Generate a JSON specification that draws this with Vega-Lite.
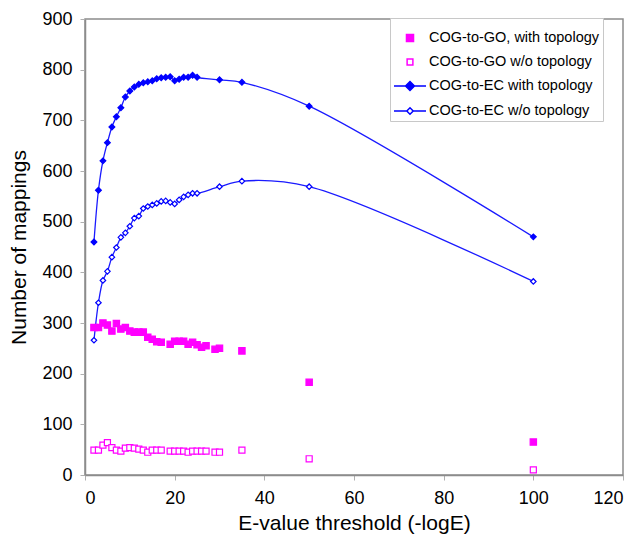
{
  "$schema": "https://vega.github.io/schema/vega-lite/v6.json",
  "width": 538,
  "height": 456,
  "autosize": {"type": "none"},
  "padding": {"left": 85, "top": 19, "right": 17, "bottom": 69},
  "background": "white",
  "config": {
    "font": "Liberation Sans",
    "view": {"stroke": "#8c8c8c", "strokeWidth": 1.5},
    "axis": {
      "grid": false,
      "domainColor": "#8c8c8c",
      "domainWidth": 1.5,
      "tickColor": "#b0b0b0",
      "tickSize": 5,
      "labelFontSize": 18,
      "labelColor": "#000000",
      "titleFontSize": 21,
      "titleFontWeight": "normal",
      "titleColor": "#000000"
    }
  },
  "data": {
    "values": [
      {"series": "COG-to-EC with topology", "x": 2, "y": 460},
      {"series": "COG-to-EC with topology", "x": 3, "y": 562},
      {"series": "COG-to-EC with topology", "x": 4, "y": 620},
      {"series": "COG-to-EC with topology", "x": 5, "y": 656},
      {"series": "COG-to-EC with topology", "x": 6, "y": 687},
      {"series": "COG-to-EC with topology", "x": 7, "y": 707},
      {"series": "COG-to-EC with topology", "x": 8, "y": 725},
      {"series": "COG-to-EC with topology", "x": 9, "y": 746},
      {"series": "COG-to-EC with topology", "x": 10, "y": 758},
      {"series": "COG-to-EC with topology", "x": 11, "y": 766},
      {"series": "COG-to-EC with topology", "x": 12, "y": 771},
      {"series": "COG-to-EC with topology", "x": 13, "y": 774},
      {"series": "COG-to-EC with topology", "x": 14, "y": 776},
      {"series": "COG-to-EC with topology", "x": 15, "y": 778},
      {"series": "COG-to-EC with topology", "x": 16, "y": 782},
      {"series": "COG-to-EC with topology", "x": 17, "y": 784},
      {"series": "COG-to-EC with topology", "x": 18, "y": 785},
      {"series": "COG-to-EC with topology", "x": 19, "y": 786},
      {"series": "COG-to-EC with topology", "x": 20, "y": 778},
      {"series": "COG-to-EC with topology", "x": 21, "y": 781},
      {"series": "COG-to-EC with topology", "x": 22, "y": 785},
      {"series": "COG-to-EC with topology", "x": 23, "y": 785},
      {"series": "COG-to-EC with topology", "x": 24, "y": 789},
      {"series": "COG-to-EC with topology", "x": 25, "y": 785},
      {"series": "COG-to-EC with topology", "x": 30, "y": 780},
      {"series": "COG-to-EC with topology", "x": 35, "y": 775},
      {"series": "COG-to-EC with topology", "x": 50, "y": 728},
      {"series": "COG-to-EC with topology", "x": 100, "y": 470},
      {"series": "COG-to-EC w/o topology", "x": 2, "y": 266},
      {"series": "COG-to-EC w/o topology", "x": 3, "y": 340},
      {"series": "COG-to-EC w/o topology", "x": 4, "y": 384},
      {"series": "COG-to-EC w/o topology", "x": 5, "y": 402},
      {"series": "COG-to-EC w/o topology", "x": 6, "y": 430},
      {"series": "COG-to-EC w/o topology", "x": 7, "y": 449},
      {"series": "COG-to-EC w/o topology", "x": 8, "y": 469},
      {"series": "COG-to-EC w/o topology", "x": 9, "y": 478},
      {"series": "COG-to-EC w/o topology", "x": 10, "y": 491},
      {"series": "COG-to-EC w/o topology", "x": 11, "y": 507},
      {"series": "COG-to-EC w/o topology", "x": 12, "y": 511},
      {"series": "COG-to-EC w/o topology", "x": 13, "y": 526},
      {"series": "COG-to-EC w/o topology", "x": 14, "y": 530},
      {"series": "COG-to-EC w/o topology", "x": 15, "y": 533},
      {"series": "COG-to-EC w/o topology", "x": 16, "y": 536},
      {"series": "COG-to-EC w/o topology", "x": 17, "y": 540},
      {"series": "COG-to-EC w/o topology", "x": 18, "y": 541},
      {"series": "COG-to-EC w/o topology", "x": 19, "y": 538},
      {"series": "COG-to-EC w/o topology", "x": 20, "y": 535},
      {"series": "COG-to-EC w/o topology", "x": 21, "y": 543},
      {"series": "COG-to-EC w/o topology", "x": 22, "y": 549},
      {"series": "COG-to-EC w/o topology", "x": 23, "y": 553},
      {"series": "COG-to-EC w/o topology", "x": 24, "y": 556},
      {"series": "COG-to-EC w/o topology", "x": 25, "y": 556},
      {"series": "COG-to-EC w/o topology", "x": 30, "y": 569},
      {"series": "COG-to-EC w/o topology", "x": 35, "y": 580},
      {"series": "COG-to-EC w/o topology", "x": 50, "y": 569},
      {"series": "COG-to-EC w/o topology", "x": 100, "y": 382},
      {"series": "COG-to-GO, with topology", "x": 2, "y": 291},
      {"series": "COG-to-GO, with topology", "x": 3, "y": 291},
      {"series": "COG-to-GO, with topology", "x": 4, "y": 300},
      {"series": "COG-to-GO, with topology", "x": 5, "y": 296},
      {"series": "COG-to-GO, with topology", "x": 6, "y": 284},
      {"series": "COG-to-GO, with topology", "x": 7, "y": 299},
      {"series": "COG-to-GO, with topology", "x": 8, "y": 288},
      {"series": "COG-to-GO, with topology", "x": 9, "y": 291},
      {"series": "COG-to-GO, with topology", "x": 10, "y": 284},
      {"series": "COG-to-GO, with topology", "x": 11, "y": 282},
      {"series": "COG-to-GO, with topology", "x": 12, "y": 282},
      {"series": "COG-to-GO, with topology", "x": 13, "y": 282},
      {"series": "COG-to-GO, with topology", "x": 14, "y": 272},
      {"series": "COG-to-GO, with topology", "x": 15, "y": 268},
      {"series": "COG-to-GO, with topology", "x": 16, "y": 263},
      {"series": "COG-to-GO, with topology", "x": 17, "y": 262},
      {"series": "COG-to-GO, with topology", "x": 19, "y": 258},
      {"series": "COG-to-GO, with topology", "x": 20, "y": 264},
      {"series": "COG-to-GO, with topology", "x": 21, "y": 264},
      {"series": "COG-to-GO, with topology", "x": 22, "y": 264},
      {"series": "COG-to-GO, with topology", "x": 23, "y": 258},
      {"series": "COG-to-GO, with topology", "x": 24, "y": 262},
      {"series": "COG-to-GO, with topology", "x": 25, "y": 257},
      {"series": "COG-to-GO, with topology", "x": 26, "y": 252},
      {"series": "COG-to-GO, with topology", "x": 27, "y": 255},
      {"series": "COG-to-GO, with topology", "x": 29, "y": 248},
      {"series": "COG-to-GO, with topology", "x": 30, "y": 250},
      {"series": "COG-to-GO, with topology", "x": 35, "y": 245},
      {"series": "COG-to-GO, with topology", "x": 50, "y": 183},
      {"series": "COG-to-GO, with topology", "x": 100, "y": 65},
      {"series": "COG-to-GO w/o topology", "x": 2, "y": 49},
      {"series": "COG-to-GO w/o topology", "x": 3, "y": 49},
      {"series": "COG-to-GO w/o topology", "x": 4, "y": 59},
      {"series": "COG-to-GO w/o topology", "x": 5, "y": 64},
      {"series": "COG-to-GO w/o topology", "x": 6, "y": 54},
      {"series": "COG-to-GO w/o topology", "x": 7, "y": 49},
      {"series": "COG-to-GO w/o topology", "x": 8, "y": 47},
      {"series": "COG-to-GO w/o topology", "x": 9, "y": 53},
      {"series": "COG-to-GO w/o topology", "x": 10, "y": 54},
      {"series": "COG-to-GO w/o topology", "x": 11, "y": 53},
      {"series": "COG-to-GO w/o topology", "x": 12, "y": 51},
      {"series": "COG-to-GO w/o topology", "x": 13, "y": 49},
      {"series": "COG-to-GO w/o topology", "x": 14, "y": 45},
      {"series": "COG-to-GO w/o topology", "x": 15, "y": 49},
      {"series": "COG-to-GO w/o topology", "x": 16, "y": 49},
      {"series": "COG-to-GO w/o topology", "x": 17, "y": 49},
      {"series": "COG-to-GO w/o topology", "x": 19, "y": 47},
      {"series": "COG-to-GO w/o topology", "x": 20, "y": 47},
      {"series": "COG-to-GO w/o topology", "x": 21, "y": 47},
      {"series": "COG-to-GO w/o topology", "x": 22, "y": 47},
      {"series": "COG-to-GO w/o topology", "x": 23, "y": 45},
      {"series": "COG-to-GO w/o topology", "x": 24, "y": 47},
      {"series": "COG-to-GO w/o topology", "x": 25, "y": 47},
      {"series": "COG-to-GO w/o topology", "x": 26, "y": 47},
      {"series": "COG-to-GO w/o topology", "x": 27, "y": 47},
      {"series": "COG-to-GO w/o topology", "x": 29, "y": 45},
      {"series": "COG-to-GO w/o topology", "x": 30, "y": 45},
      {"series": "COG-to-GO w/o topology", "x": 35, "y": 49},
      {"series": "COG-to-GO w/o topology", "x": 50, "y": 32},
      {"series": "COG-to-GO w/o topology", "x": 100, "y": 10}
    ]
  },
  "encoding": {
    "x": {
      "field": "x",
      "type": "quantitative",
      "title": "E-value threshold (-logE)",
      "scale": {"domain": [0, 120], "nice": false, "zero": false},
      "axis": {"values": [0, 20, 40, 60, 80, 100, 120], "labelPadding": 9, "titlePadding": 5}
    },
    "y": {
      "field": "y",
      "type": "quantitative",
      "title": "Number of mappings",
      "scale": {"domain": [0, 900], "nice": false},
      "axis": {"values": [0, 100, 200, 300, 400, 500, 600, 700, 800, 900], "labelPadding": 8, "titlePadding": 12}
    }
  },
  "layer": [
    {
      "transform": [{"filter": "indexof(datum.series, 'EC') >= 0"}],
      "mark": {"type": "line", "interpolate": "catmull-rom", "color": "#1a1aff", "strokeWidth": 1.3},
      "encoding": {"detail": {"field": "series"}}
    },
    {
      "mark": {"type": "point", "filled": true, "opacity": 1, "strokeWidth": 1.2},
      "encoding": {
        "shape": {
          "field": "series",
          "scale": {
            "domain": ["COG-to-GO, with topology", "COG-to-GO w/o topology", "COG-to-EC with topology", "COG-to-EC w/o topology"],
            "range": ["square", "square", "diamond", "diamond"]
          },
          "legend": null
        },
        "fill": {
          "field": "series",
          "scale": {
            "domain": ["COG-to-GO, with topology", "COG-to-GO w/o topology", "COG-to-EC with topology", "COG-to-EC w/o topology"],
            "range": ["#ff00ff", "#ffffff", "#0000ff", "#ffffff"]
          },
          "legend": null
        },
        "stroke": {
          "field": "series",
          "scale": {
            "domain": ["COG-to-GO, with topology", "COG-to-GO w/o topology", "COG-to-EC with topology", "COG-to-EC w/o topology"],
            "range": ["#ff00ff", "#ff00ff", "#0000ff", "#0000ff"]
          },
          "legend": null
        },
        "size": {
          "field": "series",
          "scale": {
            "domain": ["COG-to-GO, with topology", "COG-to-GO w/o topology", "COG-to-EC with topology", "COG-to-EC w/o topology"],
            "range": [40, 30, 70, 48]
          },
          "legend": null
        }
      }
    },
    {
      "transform": [{"filter": "false"}],
      "mark": {"type": "point", "filled": true, "opacity": 1},
      "encoding": {
        "shape": {
          "field": "series",
          "scale": {
            "domain": ["COG-to-GO, with topology", "COG-to-GO w/o topology", "COG-to-EC with topology", "COG-to-EC w/o topology"],
            "range": [
              "M-0.22,-0.22L0.22,-0.22L0.22,0.22L-0.22,0.22Z",
              "M-0.18,-0.18L0.18,-0.18L0.18,0.18L-0.18,0.18Z",
              "M-1,0L1,0M-0.28,0L0,-0.28L0.28,0L0,0.28Z",
              "M-1,0L-0.2,0M0.2,0L1,0M-0.2,0L0,-0.2L0.2,0L0,0.2Z"
            ]
          },
          "legend": {
            "orient": "none",
            "legendX": 305,
            "legendY": -1,
            "title": null,
            "labelFontSize": 14.5,
            "labelLimit": 400,
            "labelColor": "#000000",
            "labelOffset": 2,
            "symbolSize": 1024,
            "symbolStrokeWidth": 1.5,
            "symbolOpacity": 1,
            "padding": 3,
            "rowPadding": -1,
            "strokeColor": "#c8c8c8",
            "fillColor": "#ffffff"
          }
        },
        "fill": {
          "field": "series",
          "scale": {
            "domain": ["COG-to-GO, with topology", "COG-to-GO w/o topology", "COG-to-EC with topology", "COG-to-EC w/o topology"],
            "range": ["#ff00ff", "#ffffff", "#0000ff", "#ffffff"]
          }
        },
        "stroke": {
          "field": "series",
          "scale": {
            "domain": ["COG-to-GO, with topology", "COG-to-GO w/o topology", "COG-to-EC with topology", "COG-to-EC w/o topology"],
            "range": ["#ff00ff", "#ff00ff", "#0000ff", "#0000ff"]
          }
        }
      }
    }
  ],
  "resolve": {
    "scale": {"shape": "independent", "fill": "independent", "stroke": "independent", "size": "independent"},
    "legend": {"shape": "independent", "fill": "independent", "stroke": "independent"}
  }
}
